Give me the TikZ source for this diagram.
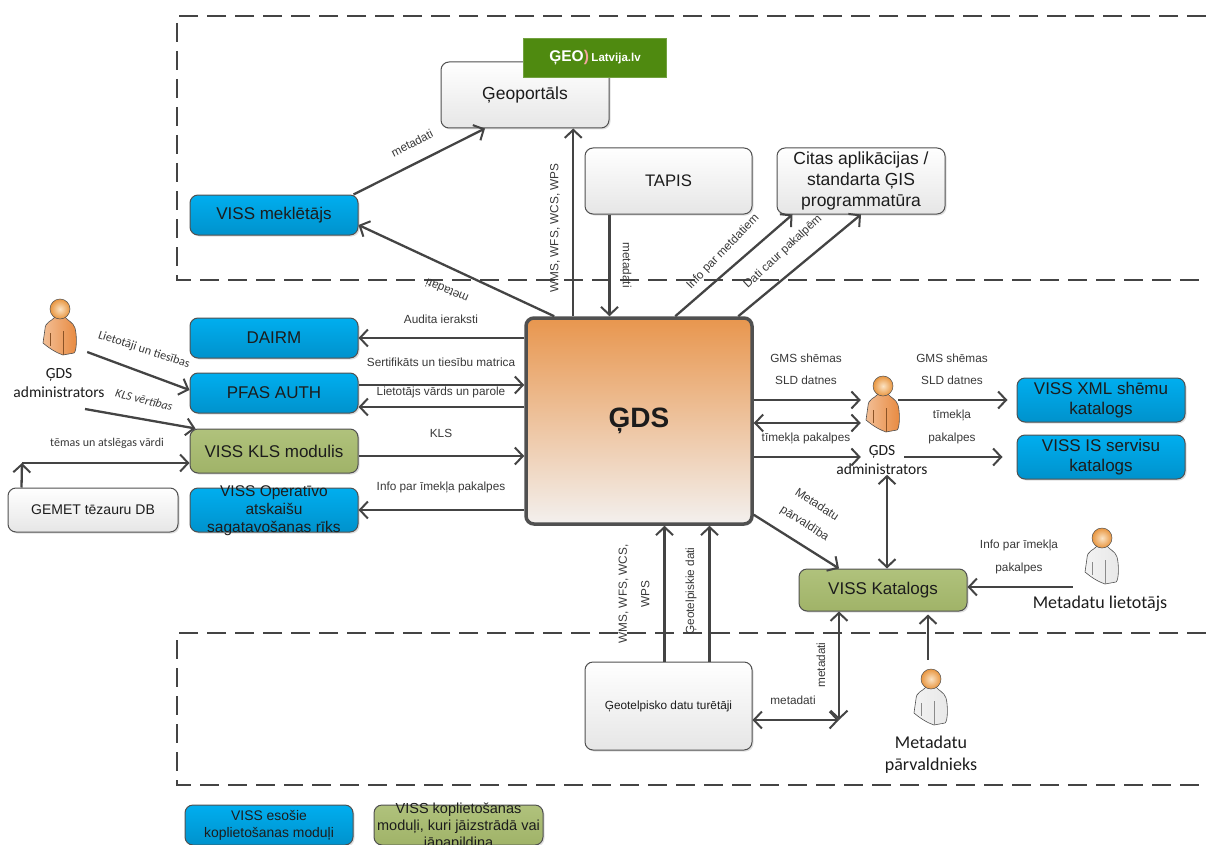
\documentclass[tikz,border=0pt]{standalone}
\usepackage{fontspec}
\usepackage{xcolor}
\setmainfont{Liberation Sans}
\newfontfamily\carlito{Carlito}
\usetikzlibrary{arrows.meta,shadows}

\begin{document}
\begin{tikzpicture}[x=1pt,y=-1pt,
  >={Straight Barb[length=8pt,width=17pt,line width=2pt]},
  mybox/.style={draw=boxedge,line width=1pt,rounded corners=8pt,inner sep=0pt,align=center,
    text=boxtext,font=\fontsize{17}{20.5}\selectfont,
    drop shadow={opacity=.25,shadow xshift=1.5pt,shadow yshift=-1.5pt}},
  bluebox/.style={mybox,top color=vissblue,bottom color=vissbluedark,minimum width=168pt},
  greenbox/.style={mybox,top color=vissgreen,bottom color=vissgreendark,minimum width=168pt},
  greybox/.style={mybox,top color=white,bottom color=greyfade,minimum width=168pt},
  boxlabel/.style={align=center,inner sep=0pt,text=boxtext},
  mylabel/.style={inner sep=0pt,align=center,text=labeltext,font=\fontsize{11.8}{22.5}\selectfont},
  callabel/.style={inner sep=0pt,align=center,text=labeltext,font=\carlito\fontsize{12.2}{14}\selectfont},
  perslabel/.style={inner sep=0pt,align=center,text=boxtext,font=\carlito\fontsize{18}{22}\selectfont},
  persnode/.style={inner sep=0pt,minimum width=44pt,minimum height=60pt},
  conn/.style={draw=linegrey,line width=2.3pt,->},
  bothconn/.style={draw=linegrey,line width=2.3pt,<->},
  zone/.style={draw=linegrey,line width=2.4pt,dash pattern=on 19pt off 9pt},
  pics/person/.style={code={
    \draw[draw=boxedge,line width=.6pt,left color=#1!55!white,right color=#1]
      (-5,-8) .. controls (-8,-4) and (-15,-3) .. (-15,4) -- (-17,18)
      .. controls (-10,24) and (-3,28) .. (3,30) -- (14,28)
      .. controls (17,26) and (17,10) .. (15,3)
      .. controls (13,-3) and (8,-4) .. (5,-8) -- cycle;
    \draw[draw=#1!60!black,line width=.5pt] (-10,8) -- (-10,21) (3,6) -- (3,30);
    \draw[draw=boxedge,line width=.5pt,inner color=headlight,outer color=headorange] (0,-16) circle (10);
  }}]
\definecolor{vissblue}{HTML}{00AEEF}
\definecolor{vissbluedark}{HTML}{0092CC}
\definecolor{vissgreen}{HTML}{B0C27C}
\definecolor{vissgreendark}{HTML}{A0B368}
\definecolor{greyfade}{HTML}{E6E6E6}
\definecolor{boxedge}{HTML}{505050}
\definecolor{boxtext}{HTML}{1C1C1C}
\definecolor{labeltext}{HTML}{383838}
\definecolor{linegrey}{HTML}{444444}
\definecolor{gdstop}{HTML}{E8964E}
\definecolor{gdsbottom}{HTML}{F3F0EE}
\definecolor{logogreen}{HTML}{4F8A10}
\definecolor{logored}{HTML}{F4A6A0}
\definecolor{headorange}{HTML}{E8953F}
\definecolor{headlight}{HTML}{FBE3C4}
\definecolor{persorange}{HTML}{E88A40}
\definecolor{perswhite}{HTML}{E8E8E8}
\useasboundingbox (0,0) rectangle (1206,845);

% zones
\foreach \ztop/\zbottom in {16/280,633/785}
  {\draw[zone] (1206,\ztop) -- (177,\ztop) -- (177,\zbottom) -- (1206,\zbottom);}

% boxes
\node[bluebox,minimum height=40pt] (mekletajs) at (274,215) {VISS meklētājs};
\node[bluebox,minimum height=40pt] (dairm) at (274,338) {DAIRM};
\node[bluebox,minimum height=40pt] (pfas) at (274,393) {PFAS AUTH};
\node[greenbox,minimum height=44pt] (klsmod) at (274,451) {VISS KLS modulis};
\node[bluebox,minimum height=44pt,label={[boxlabel,yshift=-1pt,font=\fontsize{15.5}{18}\selectfont]center:VISS Operatīvo\\atskaišu\\sagatavošanas rīks}] (operativo) at (274,510) {};
\node[greybox,minimum width=170pt,minimum height=44pt,font=\fontsize{14}{16}\selectfont] (gemet) at (93,510) {GEMET tēzauru DB};
\node[greybox,minimum height=66pt,font=\fontsize{17.5}{20}\selectfont] (geoportals) at (525,95) {Ģeoportāls};
\node[fill=logogreen,draw=logogreen!80!white,inner sep=0pt,minimum width=143pt,minimum height=39pt,text=white] (logo) at (595,57.5)
  {\fontsize{15.5}{17}\selectfont\bfseries ĢEO{\color{logored})}\,\fontsize{11.5}{12}\selectfont Latvija.lv};
\node[greybox,minimum width=167pt,minimum height=66pt,font=\fontsize{16.7}{20}\selectfont] (tapis) at (668.5,181) {TAPIS};
\node[greybox,minimum height=66pt,font=\fontsize{17.5}{21}\selectfont] (citas) at (861,181) {Citas aplikācijas /\\standarta ĢIS\\programmatūra};
\node[mybox,draw=boxedge,line width=3.5pt,top color=gdstop,bottom color=gdsbottom,minimum width=226pt,minimum height=206pt,font=\fontsize{28}{32}\selectfont\bfseries] (gds) at (639,421) {ĢDS};
\node[bluebox,minimum height=44pt] (vissxml) at (1101,400) {VISS XML shēmu\\katalogs};
\node[bluebox,minimum height=44pt] (vissis) at (1101,457) {VISS IS servisu\\katalogs};
\node[greenbox,minimum height=42pt] (katalogs) at (883,590) {VISS Katalogs};
\node[greybox,minimum width=167pt,minimum height=88pt,font=\fontsize{11.8}{14}\selectfont] (turetaji) at (668.5,706) {Ģeotelpisko datu turētāji};
\node[bluebox,minimum height=40pt,font=\fontsize{13.9}{17}\selectfont] (legblue) at (269,825) {VISS esošie\\koplietošanas moduļi};
\node[greenbox,minimum width=169pt,minimum height=40pt,label={[boxlabel,yshift=-2pt,font=\fontsize{14.5}{17}\selectfont]center:VISS koplietošanas\\moduļi, kuri jāizstrādā vai\\jāpapildina}] (leggreen) at (458.5,825) {};

% persons
\node[persnode] (admina) at (60,325) {};
\node[persnode] (adminb) at (883,402) {};
\node[persnode,minimum width=58pt] (lietotajs) at (1102,554) {};
\node[persnode] (parvaldnieks) at (931,695) {};
\foreach \who/\crlr in {admina/persorange,adminb/persorange,lietotajs/perswhite,parvaldnieks/perswhite}
  {\pic at (\who) {person=\crlr};}
\node[perslabel,font=\carlito\fontsize{15.5}{19}\selectfont] (adminalabel) at (59,383) {ĢDS\\administrators};
\node[perslabel,font=\carlito\fontsize{15.5}{19}\selectfont] (adminblabel) at (882,460) {ĢDS\\administrators};
\node[perslabel] (lietotajslabel) at (1100,604) {Metadatu lietotājs};
\node[perslabel] (parvaldnieks label) at (931,755) {Metadatu\\pārvaldnieks};

% free ends
\coordinate (adminaout) at (85,409);
\coordinate (adminbout) at (904,457);
\coordinate (gemetbend) at (22,463);
\coordinate (katjoin) at (839,720);

% connectors
\draw[conn] ([xshift=-5pt]mekletajs.north east) -- ([xshift=-40pt]geoportals.south);
\draw[conn] ([xshift=30pt]gds.north west) -- ([yshift=-10pt]mekletajs.east);
\draw[conn] ([xshift=49pt]gds.north west) -- ([xshift=49pt]gds.north west |- geoportals.south);
\draw[conn] ([xshift=25pt]tapis.south west) -- ([xshift=25pt]tapis.south west |- gds.north);
\draw[conn] ([xshift=151pt]gds.north west) -- ([xshift=16pt]citas.south west);
\draw[conn] ([xshift=214pt]gds.north west) -- (citas.south);
\draw[conn] (gds.west |- dairm.east) -- (dairm.east);
\draw[conn] ([yshift=8pt]pfas.east) -- ([yshift=8pt]pfas.east -| gds.west);
\draw[conn] ([yshift=-14pt]pfas.east -| gds.west) -- ([yshift=-14pt]pfas.east);
\draw[conn] ([yshift=-5pt]klsmod.east) -- ([yshift=-5pt]klsmod.east -| gds.west);
\draw[conn] (gds.west |- operativo.east) -- (operativo.east);
\draw[conn] ([xshift=14pt]gemet.north west) -- (gemetbend);
\draw[conn] (gemetbend) -- (gemetbend -| klsmod.west);
\draw[conn] ([xshift=5pt,yshift=-27pt]admina.east) -- ([yshift=3pt]pfas.west);
\draw[conn] (adminaout) -- ([xshift=6pt]klsmod.north west);
\draw[conn] ([yshift=21pt]gds.east) -- ([yshift=21pt]gds.east -| adminb.west);
\draw[bothconn] ([yshift=-2pt]gds.east) -- ([yshift=-2pt]gds.east -| adminb.west);
\draw[conn] ([yshift=-36pt]gds.east) -- ([yshift=-36pt]gds.east -| adminb.west);
\draw[conn] ([xshift=-7pt,yshift=2pt]adminb.east) -- ([xshift=-9pt]vissxml.west);
\draw[conn] (adminbout) -- ([xshift=-14pt]vissis.west);
\draw[bothconn] ([xshift=4pt]katalogs.north |- adminblabel.south) -- ([xshift=4pt]katalogs.north);
\draw[conn] ([yshift=11pt]gds.south east) -- ([xshift=-44pt]katalogs.north);
\draw[conn] ([yshift=3pt]katalogs.east -| lietotajs.west) -- ([yshift=3pt]katalogs.east);
\draw[conn] ([xshift=-3pt,yshift=5pt]parvaldnieks.north) -- ([xshift=45pt,yshift=-3pt]katalogs.south);
\draw[conn] ([xshift=-4pt]turetaji.north) -- ([xshift=-4pt]turetaji.north |- gds.south);
\draw[conn] ([xshift=41pt]turetaji.north) -- ([xshift=41pt]turetaji.north |- gds.south);
\draw[bothconn] ([yshift=-14pt]turetaji.east) -- (katjoin);
\draw[bothconn] (katjoin) -- (katjoin |- katalogs.south);

% labels
\foreach \lname/\ly/\ltext in {audita/319/Audita ieraksti,sert/362/Sertifikāts un tiesību matrica,parole/392/Lietotājs vārds un parole,kls/433/KLS,infoleft/487/Info par īmekļa pakalpes}
  {\node[mylabel] (\lname) at (441,\ly) {\ltext};}
\node[mylabel,rotate=27] (metaa) at (412,143) {metadati};
\node[mylabel,rotate=157] (metab) at (447,291) {metadati};
\node[mylabel,rotate=90] (ogc) at (555,228) {WMS, WFS, WCS, WPS};
\node[mylabel,rotate=-90] (metac) at (627,265) {metadati};
\node[mylabel,rotate=46] (infometa) at (723,252) {Info par metdatiem};
\node[mylabel,rotate=43] (daticaur) at (783,252) {Dati caur pakalpēm};
\node[callabel,rotate=-18] (lietotaji) at (144,350) {Lietotāji un tiesības};
\node[callabel,rotate=-14,font=\carlito\itshape\fontsize{12}{14}\selectfont] (klsvert) at (144,400) {KLS vērtības};
\node[callabel,font=\carlito\fontsize{12}{14}\selectfont] (temas) at (107,443) {tēmas un atslēgas vārdi};
\node[mylabel] (gmsa) at (806,369.5) {GMS shēmas\\SLD datnes};
\node[mylabel] (timeka) at (806,438) {tīmekļa pakalpes};
\node[mylabel] (gmsb) at (952,369.5) {GMS shēmas\\SLD datnes};
\node[mylabel] (timekb) at (952,427) {tīmekļa\\pakalpes};
\node[mylabel,rotate=-33] (parvaldiba) at (810.5,514.5) {Metadatu\\pārvaldība};
\node[mylabel] (inforight) at (1019,557) {Info par īmekļa\\pakalpes};
\node[mylabel,rotate=90] (ogcb) at (634,594) {WMS, WFS, WCS,\\WPS};
\node[mylabel,rotate=90] (geodati) at (691,591) {Ģeotelpiskie dati};
\node[mylabel,rotate=90] (metad) at (821,665) {metadati};
\node[mylabel] (metae) at (793,700) {metadati};
\end{tikzpicture}
\end{document}
